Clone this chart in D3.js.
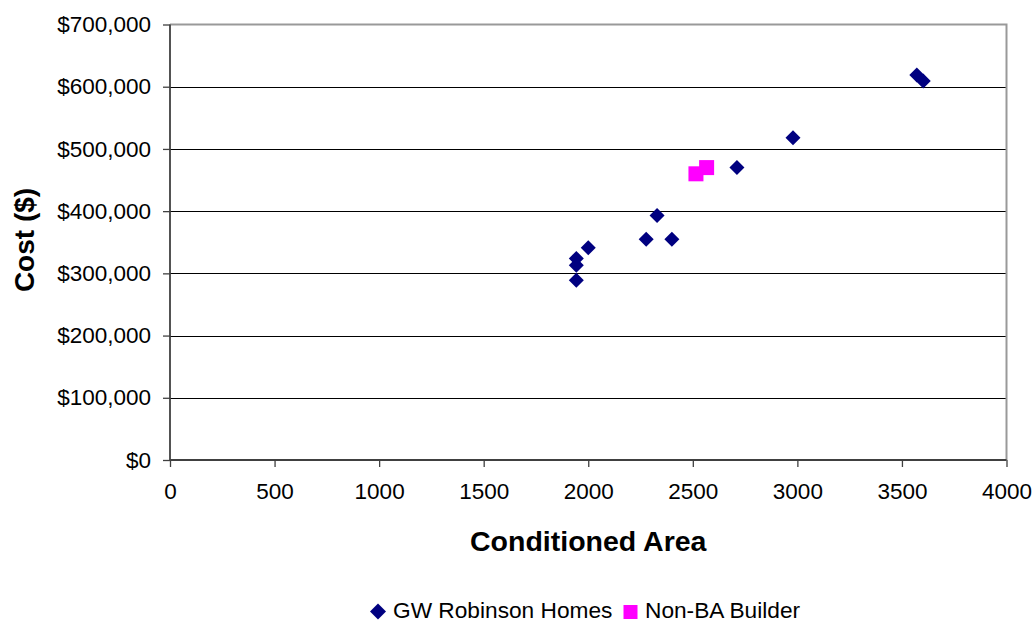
<!DOCTYPE html>
<html>
<head>
<meta charset="utf-8">
<script src="https://cdn.jsdelivr.net/npm/d3@7/dist/d3.min.js"></script>
<style>
  html, body { margin: 0; padding: 0; background: #fff; }
  svg { display: block; font-family: "Liberation Sans", Arial, sans-serif; }
</style>
</head>
<body>
<svg id="chart" width="1036" height="622"></svg>
<script>
// ---- Data ----
const gwArea = [1943, 1943, 1943, 2000, 2277, 2329, 2400, 2711, 2979, 3571, 3602];
const gwCost = [289000, 313000, 324000, 341000, 355000, 393000, 355000, 470000, 518000, 619000, 609000];
const nbArea = [2515, 2566];
const nbCost = [460000, 470000];
const xTicks = [0, 500, 1000, 1500, 2000, 2500, 3000, 3500, 4000];
const yTicks = [0, 100000, 200000, 300000, 400000, 500000, 600000, 700000];
const seriesNames = ["GW Robinson Homes", "Non-BA Builder"];
const xTitle = "Conditioned Area";
const yTitle = "Cost ($)";

// ---- Layout ----
const L = 170, R = 1006.5, T = 24.5, B = 460;
const svg = d3.select("#chart");
const x = d3.scaleLinear().domain([0, 4000]).range([L, R]);
const y = d3.scaleLinear().domain([0, 700000]).range([B, T]);
const fmt = v => "$" + d3.format(",")(v);

// gridlines
svg.append("g").selectAll("line").data(yTicks.filter(v => v > 0 && v < 700000)).join("line")
  .attr("x1", L).attr("x2", R).attr("y1", d => Math.round(y(d)) + 0.5).attr("y2", d => Math.round(y(d)) + 0.5)
  .attr("stroke", "#000").attr("stroke-width", 1);

// plot border (top & right) grey
svg.append("path")
  .attr("d", `M${L},${T} H${R} V${B}`)
  .attr("fill", "none").attr("stroke", "#999").attr("stroke-width", 2);

// y axis
const yAxis = svg.append("g").attr("transform", `translate(${L},0)`)
  .call(d3.axisLeft(y).tickValues(yTicks).tickFormat(fmt).tickSize(7).tickPadding(12));
// x axis
const xAxis = svg.append("g").attr("transform", `translate(0,${B})`)
  .call(d3.axisBottom(x).tickValues(xTicks).tickFormat(d3.format("d")).tickSize(7).tickPadding(16));

[yAxis, xAxis].forEach(g => {
  g.select(".domain").attr("stroke", "#404040").attr("stroke-width", 1.8);
  g.selectAll(".tick line").attr("stroke", "#404040").attr("stroke-width", 1.3);
  g.selectAll("text").attr("font-size", "22.5px").attr("fill", "#000")
    .attr("font-family", "'Liberation Sans', Arial, sans-serif");
});
yAxis.select(".domain").attr("d", `M0,${T}V${B}`);
xAxis.select(".domain").attr("d", `M${L},0H${R}`);
xAxis.selectAll("text").attr("dy", "0.71em");

// titles
svg.append("text").attr("x", (L + R) / 2).attr("y", 551).attr("text-anchor", "middle")
  .attr("font-size", "28.5px").attr("font-weight", "bold").text(xTitle);
svg.append("text").attr("transform", `translate(34,${240}) rotate(-90)`).attr("text-anchor", "middle")
  .attr("font-size", "28px").attr("font-weight", "bold").text(yTitle);

// markers
const diamond = (cx, cy, r) => `M${cx},${cy - r}L${cx + r},${cy}L${cx},${cy + r}L${cx - r},${cy}Z`;
svg.append("g").selectAll("path").data(gwArea.map((a, i) => [a, gwCost[i]])).join("path")
  .attr("d", d => diamond(x(d[0]), y(d[1]), 7.5))
  .attr("fill", "#000080");
svg.append("g").selectAll("rect").data(nbArea.map((a, i) => [a, nbCost[i]])).join("rect")
  .attr("x", d => x(d[0]) - 7.5).attr("y", d => y(d[1]) - 7.5)
  .attr("width", 15).attr("height", 15)
  .attr("fill", "#FF00FF");

// legend
const lg = svg.append("g");
lg.append("path").attr("d", diamond(378, 611.5, 8)).attr("fill", "#000080");
lg.append("text").attr("x", 393).attr("y", 617.5).attr("font-size", "22.7px").text(seriesNames[0]);
lg.append("rect").attr("x", 623.5).attr("y", 605).attr("width", 14).attr("height", 14).attr("fill", "#FF00FF");
lg.append("text").attr("x", 645).attr("y", 617.5).attr("font-size", "22.7px").text(seriesNames[1]);
</script>
</body>
</html>
